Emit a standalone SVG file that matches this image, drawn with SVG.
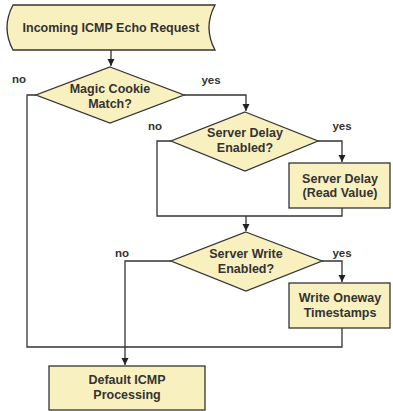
<svg xmlns="http://www.w3.org/2000/svg" width="393" height="411" viewBox="0 0 393 411">
<defs>
<marker id="ah" markerWidth="8" markerHeight="8" refX="7" refY="4" orient="auto" markerUnits="userSpaceOnUse">
<path d="M0,0.5 L7,4 L0,7.5 Z" fill="#222"/>
</marker>
<style>
.n{fill:#f9f0bf;stroke:#333;stroke-width:1.3}
.c{fill:none;stroke:#333;stroke-width:1.3}
text{font-family:"Liberation Sans",Arial,sans-serif;font-weight:bold;font-size:12.5px;fill:#333;text-anchor:middle}
.l{font-size:11.5px}
</style>
</defs>
<rect width="393" height="411" fill="#fff"/>
<g id="connectors">
<path class="c" d="M111,50 V66" marker-end="url(#ah)"/>
<path class="c" d="M36,95 H27 V347 H342 V328"/>
<path class="c" d="M184,95 H246 V111" marker-end="url(#ah)"/>
<path class="c" d="M171,141 H157 V216 H342 V208"/>
<path class="c" d="M318,141 H342 V162" marker-end="url(#ah)"/>
<path class="c" d="M246,216 V231" marker-end="url(#ah)"/>
<path class="c" d="M171,261 H125 V365" marker-end="url(#ah)"/>
<path class="c" d="M322,261 H342 V282" marker-end="url(#ah)"/>
<text class="l" x="19" y="83">no</text>
<text class="l" x="211" y="84">yes</text>
<text class="l" x="155" y="130">no</text>
<text class="l" x="342" y="130">yes</text>
<text class="l" x="122" y="257">no</text>
<text class="l" x="342" y="257">yes</text>
</g>
<g id="start">
<path class="n" d="M13,5 H215 Q203,27.5 215,50 H13 Q1,27.5 13,5 Z"/>
<text x="111" y="32">Incoming ICMP Echo Request</text>
</g>
<g id="magic">
<path class="n" d="M110,67 L184,95 L110,123 L36,95 Z"/>
<text x="110" y="93">Magic Cookie</text>
<text x="110" y="108">Match?</text>
</g>
<g id="delayq">
<path class="n" d="M245,112 L318,141 L245,171 L171,141 Z"/>
<text x="245" y="137">Server Delay</text>
<text x="245" y="152">Enabled?</text>
</g>
<g id="delay">
<rect class="n" x="289" y="163" width="101" height="45"/>
<text x="340" y="183">Server Delay</text>
<text x="340" y="197">(Read Value)</text>
</g>
<g id="writeq">
<path class="n" d="M246,232 L322,261 L246,291 L171,261 Z"/>
<text x="246" y="258">Server Write</text>
<text x="246" y="273">Enabled?</text>
</g>
<g id="write">
<rect class="n" x="289" y="283" width="101" height="45"/>
<text x="340" y="302">Write Oneway</text>
<text x="340" y="317">Timestamps</text>
</g>
<g id="default">
<rect class="n" x="49" y="366" width="156" height="44"/>
<text x="127" y="384">Default ICMP</text>
<text x="127" y="399">Processing</text>
</g>
</svg>
